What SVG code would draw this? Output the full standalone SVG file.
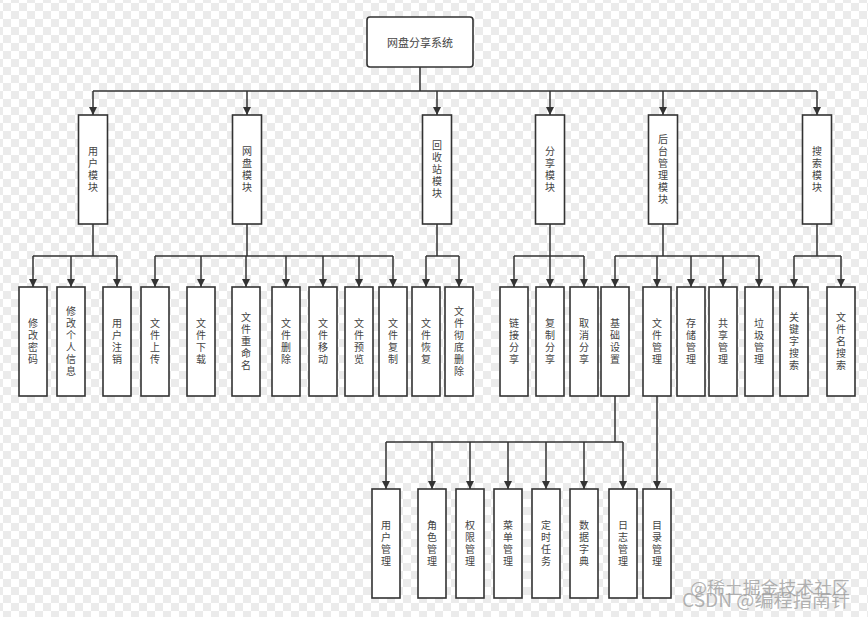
<svg xmlns="http://www.w3.org/2000/svg" width="868" height="617" viewBox="0 0 868 617">
<defs>
<pattern id="chk" x="3" y="3" width="16" height="16" patternUnits="userSpaceOnUse">
<rect width="16" height="16" fill="#ffffff"/>
<rect width="8" height="8" fill="#ebebeb"/>
<rect x="8" y="8" width="8" height="8" fill="#ebebeb"/>
</pattern>
<marker id="arr" viewBox="0 0 10 10" refX="10" refY="5" markerWidth="9" markerHeight="8" markerUnits="userSpaceOnUse" orient="auto">
<path d="M0,0 L10,5 L0,10 z" fill="#333"/>
</marker>
<style>
.box{fill:#fff;stroke:#333;stroke-width:1.6}
.ln{fill:none;stroke:#333;stroke-width:1.5}
.ar{fill:none;stroke:#333;stroke-width:1.5;marker-end:url(#arr)}
.t{font-family:"Noto Sans CJK SC","Liberation Sans",sans-serif;font-size:11px;fill:#444;text-anchor:middle;dominant-baseline:central}
.v{font-family:"Noto Sans CJK SC","Liberation Sans",sans-serif;font-size:10px;fill:#444;text-anchor:middle;writing-mode:vertical-rl;text-orientation:upright;letter-spacing:2px}
.wm{font-family:"Noto Sans CJK SC","Liberation Sans",sans-serif;fill:#9a9a9a;fill-opacity:0.75}
</style>
</defs>
<rect width="868" height="617" fill="url(#chk)"/>

<g id="connectors">
<path class="ln" d="M420,67 V91 M93,91 H817"/>
<path class="ar" d="M93,91 V115"/><path class="ar" d="M247,91 V115"/><path class="ar" d="M437,91 V115"/><path class="ar" d="M550,91 V115"/><path class="ar" d="M663,91 V115"/><path class="ar" d="M817,91 V115"/>
<path class="ln" d="M93,224 V256 M33,256 H117 M247,224 V256 M155,256 H393 M437,224 V256 M426,256 H459 M550,224 V256 M514,256 H584 M663,224 V256 M615,256 H759 M817,224 V256 M794,256 H841"/>
<path class="ar" d="M33,256 V287"/><path class="ar" d="M71,256 V287"/><path class="ar" d="M117,256 V287"/>
<path class="ar" d="M155,256 V287"/><path class="ar" d="M201,256 V287"/><path class="ar" d="M246,256 V287"/><path class="ar" d="M286,256 V287"/><path class="ar" d="M323,256 V287"/><path class="ar" d="M359,256 V287"/><path class="ar" d="M393,256 V287"/>
<path class="ar" d="M426,256 V287"/><path class="ar" d="M459,256 V287"/>
<path class="ar" d="M514,256 V287"/><path class="ar" d="M550,256 V287"/><path class="ar" d="M584,256 V287"/>
<path class="ar" d="M615,256 V287"/><path class="ar" d="M657,256 V287"/><path class="ar" d="M691,256 V287"/><path class="ar" d="M723,256 V287"/><path class="ar" d="M759,256 V287"/>
<path class="ar" d="M794,256 V287"/><path class="ar" d="M841,256 V287"/>
<path class="ln" d="M615,396 V442 M386,442 H623"/>
<path class="ar" d="M386,442 V489"/><path class="ar" d="M432,442 V489"/><path class="ar" d="M470,442 V489"/><path class="ar" d="M508,442 V489"/><path class="ar" d="M546,442 V489"/><path class="ar" d="M584,442 V489"/><path class="ar" d="M623,442 V489"/>
<path class="ar" d="M657,396 V489"/>
</g>

<g id="root">
<rect class="box" x="367" y="17" width="106" height="50" rx="3"/>
<text class="t" x="420" y="42">网盘分享系统</text>
</g>

<g id="m-user"><rect class="box" x="78.5" y="115" width="29" height="109"/><text class="v" x="93" y="170.5">用户模块</text></g>
<g id="m-disk"><rect class="box" x="232.5" y="115" width="29" height="109"/><text class="v" x="247" y="170.5">网盘模块</text></g>
<g id="m-recycle"><rect class="box" x="422.5" y="115" width="29" height="109"/><text class="v" x="437" y="170.5">回收站模块</text></g>
<g id="m-share"><rect class="box" x="535.5" y="115" width="29" height="109"/><text class="v" x="550" y="170.5">分享模块</text></g>
<g id="m-admin"><rect class="box" x="648.5" y="115" width="29" height="109"/><text class="v" x="663" y="170.5">后台管理模块</text></g>
<g id="m-search"><rect class="box" x="802.5" y="115" width="29" height="109"/><text class="v" x="817" y="170.5">搜索模块</text></g>

<g id="n-pwd"><rect class="box" x="19" y="287" width="28" height="109"/><text class="v" x="33" y="342.5">修改密码</text></g>
<g id="n-info"><rect class="box" x="57" y="287" width="28" height="109"/><text class="v" x="71" y="342.5">修改个人信息</text></g>
<g id="n-cancel"><rect class="box" x="103" y="287" width="28" height="109"/><text class="v" x="117" y="342.5">用户注销</text></g>
<g id="n-upload"><rect class="box" x="141" y="287" width="28" height="109"/><text class="v" x="155" y="342.5">文件上传</text></g>
<g id="n-download"><rect class="box" x="187" y="287" width="28" height="109"/><text class="v" x="201" y="342.5">文件下载</text></g>
<g id="n-rename"><rect class="box" x="232" y="287" width="28" height="109"/><text class="v" x="246" y="342.5">文件重命名</text></g>
<g id="n-delete"><rect class="box" x="272" y="287" width="28" height="109"/><text class="v" x="286" y="342.5">文件删除</text></g>
<g id="n-move"><rect class="box" x="309" y="287" width="28" height="109"/><text class="v" x="323" y="342.5">文件移动</text></g>
<g id="n-preview"><rect class="box" x="345" y="287" width="28" height="109"/><text class="v" x="359" y="342.5">文件预览</text></g>
<g id="n-copy"><rect class="box" x="379" y="287" width="28" height="109"/><text class="v" x="393" y="342.5">文件复制</text></g>
<g id="n-restore"><rect class="box" x="412" y="287" width="28" height="109"/><text class="v" x="426" y="342.5">文件恢复</text></g>
<g id="n-purge"><rect class="box" x="445" y="287" width="28" height="109"/><text class="v" x="459" y="342.5">文件彻底删除</text></g>
<g id="n-link"><rect class="box" x="500" y="287" width="28" height="109"/><text class="v" x="514" y="342.5">链接分享</text></g>
<g id="n-copyshare"><rect class="box" x="536" y="287" width="28" height="109"/><text class="v" x="550" y="342.5">复制分享</text></g>
<g id="n-unshare"><rect class="box" x="570" y="287" width="28" height="109"/><text class="v" x="584" y="342.5">取消分享</text></g>
<g id="n-basic"><rect class="box" x="601" y="287" width="28" height="109"/><text class="v" x="615" y="342.5">基础设置</text></g>
<g id="n-filemgr"><rect class="box" x="643" y="287" width="28" height="109"/><text class="v" x="657" y="342.5">文件管理</text></g>
<g id="n-storage"><rect class="box" x="677" y="287" width="28" height="109"/><text class="v" x="691" y="342.5">存储管理</text></g>
<g id="n-sharemgr"><rect class="box" x="709" y="287" width="28" height="109"/><text class="v" x="723" y="342.5">共享管理</text></g>
<g id="n-trash"><rect class="box" x="745" y="287" width="28" height="109"/><text class="v" x="759" y="342.5">垃圾管理</text></g>
<g id="n-keyword"><rect class="box" x="780" y="287" width="28" height="109"/><text class="v" x="794" y="342.5">关键字搜索</text></g>
<g id="n-filename"><rect class="box" x="827" y="287" width="28" height="109"/><text class="v" x="841" y="342.5">文件名搜索</text></g>

<g id="b-user"><rect class="box" x="372" y="489" width="28" height="109"/><text class="v" x="386" y="544.5">用户管理</text></g>
<g id="b-role"><rect class="box" x="418" y="489" width="28" height="109"/><text class="v" x="432" y="544.5">角色管理</text></g>
<g id="b-perm"><rect class="box" x="456" y="489" width="28" height="109"/><text class="v" x="470" y="544.5">权限管理</text></g>
<g id="b-menu"><rect class="box" x="494" y="489" width="28" height="109"/><text class="v" x="508" y="544.5">菜单管理</text></g>
<g id="b-task"><rect class="box" x="532" y="489" width="28" height="109"/><text class="v" x="546" y="544.5">定时任务</text></g>
<g id="b-dict"><rect class="box" x="570" y="489" width="28" height="109"/><text class="v" x="584" y="544.5">数据字典</text></g>
<g id="b-log"><rect class="box" x="609" y="489" width="28" height="109"/><text class="v" x="623" y="544.5">日志管理</text></g>
<g id="b-dir"><rect class="box" x="643" y="489" width="28" height="109"/><text class="v" x="657" y="544.5">目录管理</text></g>

<g id="watermark">
<text class="wm" x="690" y="594" font-size="17" textLength="160" lengthAdjust="spacingAndGlyphs">@稀土掘金技术社区</text>
<text class="wm" x="682" y="607" font-size="18" textLength="168" lengthAdjust="spacingAndGlyphs">CSDN @编程指南针</text>
</g>
</svg>
